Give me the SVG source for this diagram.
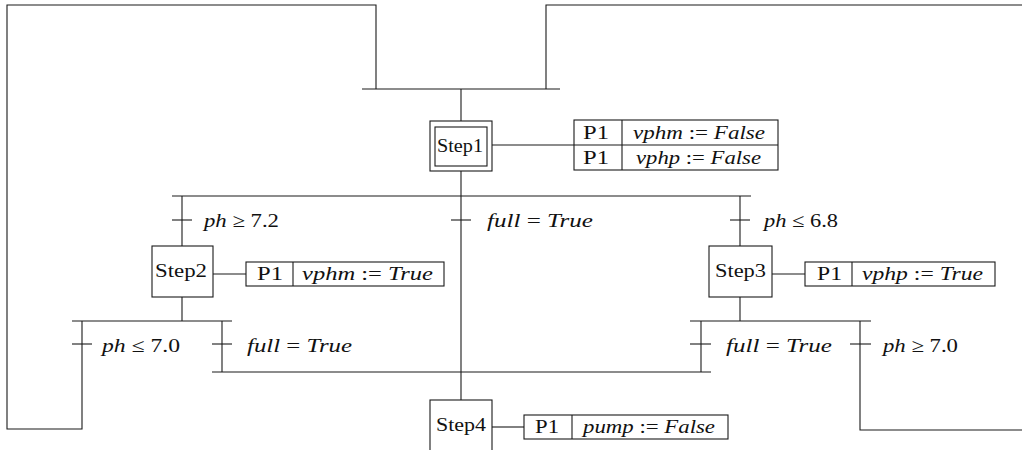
<svg xmlns="http://www.w3.org/2000/svg" width="1022" height="450" viewBox="0 0 1022 450">
<style>
line,polyline,rect{stroke:#1a1a1a;stroke-width:1.1;fill:none}
rect{fill:#fff}
text{font-family:"Liberation Serif","Times New Roman",serif;font-size:19px;fill:#111}
.i{font-style:italic}
</style>
<rect x="0" y="0" width="1022" height="450" style="stroke:none;fill:#fff"/>
<g id="connectors">
<polyline points="82,321 82,429 7,429 7,5 376,5 376,89"/>
<polyline points="546,89 546,5 1022,5"/>
<polyline points="860,321 860,430 1022,430"/>
<line x1="362" y1="89" x2="560" y2="89"/>
<line x1="461" y1="89" x2="461" y2="121"/>
<line x1="461" y1="171" x2="461" y2="400"/>
<line x1="172" y1="196" x2="751" y2="196"/>
<line x1="182" y1="196" x2="182" y2="246"/>
<line x1="740" y1="196" x2="740" y2="246"/>
<line x1="182" y1="297" x2="182" y2="321"/>
<line x1="72" y1="321" x2="232" y2="321"/>
<line x1="222" y1="321" x2="222" y2="372"/>
<line x1="212" y1="372" x2="711" y2="372"/>
<line x1="740" y1="297" x2="740" y2="321"/>
<line x1="690" y1="321" x2="871" y2="321"/>
<line x1="701" y1="321" x2="701" y2="372"/>
<line x1="492" y1="145" x2="574" y2="145"/>
<line x1="213" y1="274" x2="246" y2="274"/>
<line x1="772" y1="274" x2="805" y2="274"/>
<line x1="492" y1="427" x2="524" y2="427"/>
</g>
<g id="step1">
<rect x="430" y="121" width="62" height="50"/>
<rect x="435" y="127" width="52" height="39"/>
<text x="437" y="152" textLength="46" lengthAdjust="spacingAndGlyphs">Step1</text>
</g>
<g id="action1">
<rect x="574" y="120" width="204" height="50"/>
<line x1="574" y1="145" x2="778" y2="145"/>
<line x1="622" y1="120" x2="622" y2="170"/>
<text x="583" y="139" textLength="26" lengthAdjust="spacingAndGlyphs">P1</text>
<text x="633" y="139" textLength="132" lengthAdjust="spacingAndGlyphs"><tspan class="i">vphm</tspan> := <tspan class="i">False</tspan></text>
<text x="583" y="164" textLength="26" lengthAdjust="spacingAndGlyphs">P1</text>
<text x="636" y="164" textLength="125" lengthAdjust="spacingAndGlyphs"><tspan class="i">vphp</tspan> := <tspan class="i">False</tspan></text>
</g>
<g id="t1">
<line x1="172" y1="220" x2="192" y2="220"/>
<text x="204" y="227" textLength="75" lengthAdjust="spacingAndGlyphs"><tspan class="i">ph</tspan> ≥ 7.2</text>
</g>
<g id="t2">
<line x1="451" y1="220" x2="471" y2="220"/>
<text x="487" y="227" textLength="106" lengthAdjust="spacingAndGlyphs"><tspan class="i">full</tspan> = <tspan class="i">True</tspan></text>
</g>
<g id="t3">
<line x1="730" y1="220" x2="750" y2="220"/>
<text x="764" y="227" textLength="74" lengthAdjust="spacingAndGlyphs"><tspan class="i">ph</tspan> ≤ 6.8</text>
</g>
<g id="step2">
<rect x="152" y="246" width="61" height="51"/>
<text x="155" y="277" textLength="52" lengthAdjust="spacingAndGlyphs">Step2</text>
</g>
<g id="action2">
<rect x="246" y="262" width="198" height="24"/>
<line x1="293" y1="262" x2="293" y2="286"/>
<text x="257" y="280" textLength="26" lengthAdjust="spacingAndGlyphs">P1</text>
<text x="302" y="280" textLength="131" lengthAdjust="spacingAndGlyphs"><tspan class="i">vphm</tspan> := <tspan class="i">True</tspan></text>
</g>
<g id="step3">
<rect x="709" y="246" width="63" height="51"/>
<text x="715" y="277" textLength="51" lengthAdjust="spacingAndGlyphs">Step3</text>
</g>
<g id="action3">
<rect x="805" y="262" width="190" height="24"/>
<line x1="852" y1="262" x2="852" y2="286"/>
<text x="817" y="280" textLength="25" lengthAdjust="spacingAndGlyphs">P1</text>
<text x="862" y="280" textLength="121" lengthAdjust="spacingAndGlyphs"><tspan class="i">vphp</tspan> := <tspan class="i">True</tspan></text>
</g>
<g id="t4">
<line x1="72" y1="344" x2="92" y2="344"/>
<text x="102" y="352" textLength="78" lengthAdjust="spacingAndGlyphs"><tspan class="i">ph</tspan> ≤ 7.0</text>
</g>
<g id="t5">
<line x1="212" y1="344" x2="232" y2="344"/>
<text x="247" y="352" textLength="105" lengthAdjust="spacingAndGlyphs"><tspan class="i">full</tspan> = <tspan class="i">True</tspan></text>
</g>
<g id="t6">
<line x1="690" y1="344" x2="711" y2="344"/>
<text x="726" y="352" textLength="106" lengthAdjust="spacingAndGlyphs"><tspan class="i">full</tspan> = <tspan class="i">True</tspan></text>
</g>
<g id="t7">
<line x1="850" y1="344" x2="871" y2="344"/>
<text x="883" y="352" textLength="75" lengthAdjust="spacingAndGlyphs"><tspan class="i">ph</tspan> ≥ 7.0</text>
</g>
<g id="step4">
<rect x="430" y="400" width="62" height="60"/>
<text x="436" y="431" textLength="50" lengthAdjust="spacingAndGlyphs">Step4</text>
</g>
<g id="action4">
<rect x="524" y="415" width="204" height="24"/>
<line x1="572" y1="415" x2="572" y2="439"/>
<text x="535" y="433" textLength="24" lengthAdjust="spacingAndGlyphs">P1</text>
<text x="583" y="433" textLength="132" lengthAdjust="spacingAndGlyphs"><tspan class="i">pump</tspan> := <tspan class="i">False</tspan></text>
</g>
</svg>
